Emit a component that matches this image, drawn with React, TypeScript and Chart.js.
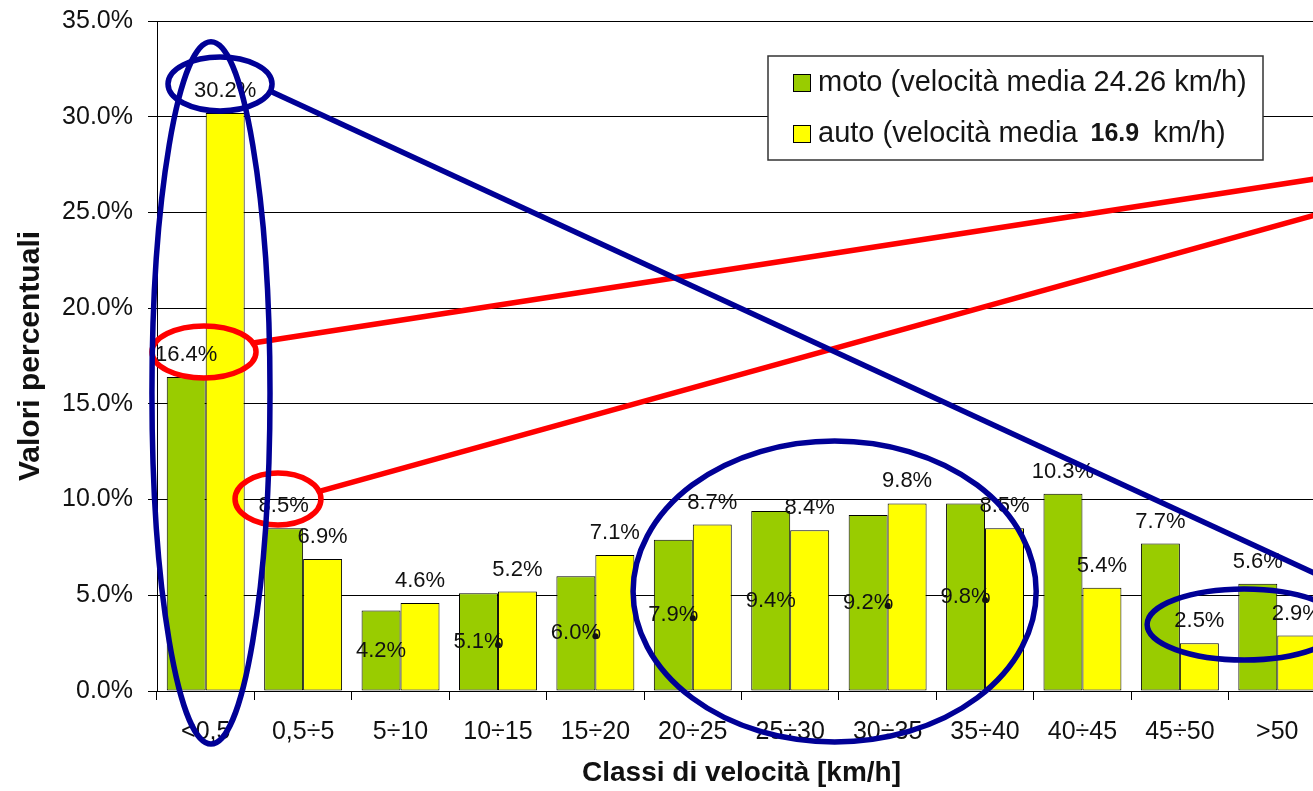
import React, { useEffect, useRef } from 'react';
import { Chart, registerables } from 'chart.js';

Chart.register(...registerables);

// ---------- data ----------
const categories = ['<0,5', '0,5÷5', '5÷10', '10÷15', '15÷20', '20÷25', '25÷30', '30÷35', '35÷40', '40÷45', '45÷50', '>50'];
const motoValues = [16.4, 8.5, 4.2, 5.1, 6.0, 7.9, 9.4, 9.2, 9.8, 10.3, 7.7, 5.6];
const autoValues = [30.2, 6.9, 4.6, 5.2, 7.1, 8.7, 8.4, 9.8, 8.5, 5.4, 2.5, 2.9];
const yTicks = [0, 5, 10, 15, 20, 25, 30, 35];

// moto labels drawn centred inside the bar (as in the original), with a small leader dot
const motoLabelInside = [false, false, true, true, true, true, true, true, true, false, false, false];
const motoLabelDot = [false, false, false, true, true, true, false, true, true, false, false, false];

const legendMotoText = 'moto (velocità media 24.26 km/h)';
const legendAutoParts = ['auto (velocità media', '16.9', 'km/h)'];

// hand-drawn annotations, expressed in data units (x: category index, y: percent)
const blueEllipses = [
  { cx: 0.054, cy: 15.57, rx: 0.606, ry: 18.34 },
  { cx: 0.147, cy: 31.71, rx: 0.534, ry: 1.41 },
  { cx: 6.456, cy: 5.198, rx: 2.069, ry: 7.862 },
  { cx: 10.66, cy: 3.474, rx: 0.996, ry: 1.855 },
];
const redEllipses = [
  { cx: -0.0175, cy: 17.71, rx: 0.534, ry: 1.36 },
  { cx: 0.742, cy: 10.03, rx: 0.441, ry: 1.358 },
];
const blueLines = [[0.681, 31.29, 11.45, 6.0]];
const redLines = [
  [0.4856, 18.18, 11.45, 26.8],
  [1.184, 10.45, 11.45, 24.95],
];

const FONT = "'Liberation Sans', Arial, Helvetica, sans-serif";
const GREEN = '#99CC00';
const YELLOW = '#FFFF00';
const BLUE = '#000096';
const RED = '#FF0000';

const labelsPlugin = {
  id: 'barLabels',
  afterDatasetsDraw(chart: any) {
    const ctx = chart.ctx;
    ctx.save();
    ctx.font = `22px ${FONT}`;
    ctx.textAlign = 'center';
    ctx.textBaseline = 'middle';
    ctx.fillStyle = '#111';
    chart.data.datasets.forEach((ds: any, di: number) => {
      const meta = chart.getDatasetMeta(di);
      meta.data.forEach((el: any, i: number) => {
        const { x, y, base, width } = el.getProps(['x', 'y', 'base', 'width'], true);
        const v = ds.data[i] as number;
        const text = v.toFixed(1) + '%';
        const inside = di === 0 && motoLabelInside[i];
        const ly = inside ? (y + base) / 2 : y - 22;
        ctx.fillText(text, x, ly);
        if (di === 0 && motoLabelDot[i]) {
          ctx.beginPath();
          ctx.arc(x + width / 2, ly + 3, 3, 0, Math.PI * 2);
          ctx.fill();
        }
      });
    });
    ctx.restore();
  },
};

const overlayPlugin = {
  id: 'overlay',
  afterDraw(chart: any) {
    const ctx = chart.ctx;
    const xs = chart.scales.x;
    const ys = chart.scales.y;
    const px = (v: number) => xs.getPixelForValue(v);
    const py = (v: number) => ys.getPixelForValue(v);
    const unitX = px(1) - px(0);
    const unitY = py(0) - py(1);

    // legend
    ctx.save();
    const lx = 768, ly = 56, lw = 495, lh = 104;
    ctx.fillStyle = '#fff';
    ctx.fillRect(lx, ly, lw, lh);
    ctx.strokeStyle = '#333';
    ctx.lineWidth = 1.5;
    ctx.strokeRect(lx, ly, lw, lh);
    const rows = [83, 134];
    const colors = [GREEN, YELLOW];
    rows.forEach((ry, i) => {
      ctx.fillStyle = colors[i];
      ctx.fillRect(793, ry - 9, 18, 18);
      ctx.strokeStyle = '#000';
      ctx.lineWidth = 1;
      ctx.strokeRect(793.5, ry - 8.5, 17, 17);
    });
    ctx.fillStyle = '#151515';
    ctx.textBaseline = 'middle';
    ctx.textAlign = 'left';
    ctx.font = `29px ${FONT}`;
    ctx.fillText(legendMotoText, 818, rows[0]);
    let tx = 818;
    ctx.fillText(legendAutoParts[0], tx, rows[1]);
    tx += ctx.measureText(legendAutoParts[0]).width + 13;
    ctx.font = `bold 25px ${FONT}`;
    ctx.fillText(legendAutoParts[1], tx, rows[1]);
    tx += ctx.measureText(legendAutoParts[1]).width + 14;
    ctx.font = `29px ${FONT}`;
    ctx.fillText(legendAutoParts[2], tx, rows[1]);
    ctx.restore();

    // annotations
    ctx.save();
    ctx.lineWidth = 5.5;
    const drawEllipse = (e: any, color: string) => {
      ctx.strokeStyle = color;
      ctx.beginPath();
      ctx.ellipse(px(e.cx), py(e.cy), e.rx * unitX, e.ry * unitY, 0, 0, Math.PI * 2);
      ctx.stroke();
    };
    const drawLine = (l: number[], color: string) => {
      ctx.strokeStyle = color;
      ctx.beginPath();
      ctx.moveTo(px(l[0]), py(l[1]));
      ctx.lineTo(px(l[2]), py(l[3]));
      ctx.stroke();
    };
    redLines.forEach((l) => drawLine(l, RED));
    redEllipses.forEach((e) => drawEllipse(e, RED));
    blueLines.forEach((l) => drawLine(l, BLUE));
    blueEllipses.forEach((e) => drawEllipse(e, BLUE));
    ctx.restore();
  },
};

export default function App() {
  const canvasRef = useRef<HTMLCanvasElement | null>(null);

  useEffect(() => {
    if (!canvasRef.current) return;
    const chart = new Chart(canvasRef.current, {
      type: 'bar',
      data: {
        labels: categories,
        datasets: [
          {
            label: 'moto',
            data: motoValues,
            backgroundColor: GREEN,
            borderColor: '#000',
            borderWidth: 1,
            borderSkipped: false,
            categoryPercentage: 0.8,
            barPercentage: 1,
          },
          {
            label: 'auto',
            data: autoValues,
            backgroundColor: YELLOW,
            borderColor: '#000',
            borderWidth: 1,
            borderSkipped: false,
            categoryPercentage: 0.8,
            barPercentage: 1,
          },
        ],
      },
      options: {
        responsive: false,
        animation: false,
        layout: { padding: { left: 0, right: 14, top: 21, bottom: 0 } },
        plugins: {
          legend: { display: false },
          tooltip: { enabled: false },
        },
        scales: {
          x: {
            offset: true,
            grid: {
              display: true,
              drawOnChartArea: false,
              drawTicks: true,
              tickLength: 9,
              color: '#000',
              offset: true,
            },
            border: { display: true, color: '#000', width: 1 },
            ticks: {
              font: { family: FONT, size: 25 },
              color: '#111',
              padding: 17,
              maxRotation: 0,
              autoSkip: false,
            },
            title: {
              display: true,
              text: 'Classi di velocità [km/h]',
              font: { family: FONT, size: 28, weight: 'bold' },
              color: '#111',
              padding: { top: 0, bottom: 1 },
            },
            afterFit: (s: any) => {
              s.height = 100;
              s.paddingLeft = 0;
              s.paddingRight = 0;
            },
          },
          y: {
            min: 0,
            max: 35,
            afterBuildTicks: (s: any) => {
              s.ticks = yTicks.map((v) => ({ value: v }));
            },
            ticks: {
              callback: (v: any) => Number(v).toFixed(1) + '%',
              font: { family: FONT, size: 25 },
              color: '#111',
              padding: 15,
            },
            grid: { color: '#000', lineWidth: 1, tickLength: 9 },
            border: { display: true, color: '#000', width: 1 },
            title: {
              display: true,
              text: 'Valori percentuali',
              font: { family: FONT, size: 30, weight: 'bold' },
              color: '#111',
              padding: { top: 13, bottom: 0 },
            },
            afterFit: (s: any) => {
              s.width = 157;
              s.paddingTop = 0;
              s.paddingBottom = 0;
            },
          },
        },
      } as any,
      plugins: [labelsPlugin, overlayPlugin],
    });
    return () => chart.destroy();
  }, []);

  return (
    <div
      style={{
        position: 'fixed',
        left: 0,
        top: 0,
        width: 1313,
        height: 791,
        overflow: 'hidden',
        background: '#fff',
      }}
    >
      <canvas ref={canvasRef} width={1340} height={791} style={{ display: 'block' }} />
    </div>
  );
}
